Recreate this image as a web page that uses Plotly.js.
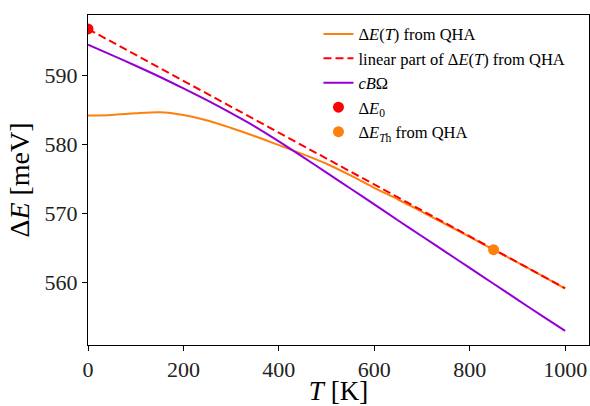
<!DOCTYPE html>
<html>
<head>
<meta charset="utf-8">
<script src="https://cdn.plot.ly/plotly-3.0.1.min.js"></script>
<style>html,body{margin:0;padding:0;background:#fff;}#chart{width:590px;height:406px;}</style>
</head>
<body>
<div id="chart"></div>
<script>
// Temperatures (K)
const T_grid = [0, 50, 100, 150, 200, 250, 300, 350, 400, 450, 500, 550, 600, 650, 700, 750, 800, 850, 900, 950, 1000];
// ΔE(T) from QHA (meV)
const dE_qha = [584.2, 584.3, 584.55, 584.7, 584.3, 583.5, 582.4, 581.2, 579.9, 578.6, 577.2, 575.5, 573.7, 572.0, 570.2, 568.4, 566.55, 564.7, 562.85, 560.95, 559.05];
// cBΩ (meV)
const cBOmega = [594.5, 593.0, 591.45, 589.85, 588.15, 586.4, 584.55, 582.6, 580.45, 578.2, 575.9, 573.6, 571.3, 568.95, 566.65, 564.35, 562.05, 559.75, 557.45, 555.15, 552.9];
// linear part of ΔE(T)
const T_lin = [0, 1000];
const dE_lin = [596.8, 559.1];
// points
const T0 = [0];
const dE0 = [596.8];
const Th = [850];
const dETh = [564.7];

const xTicks = [0, 200, 400, 600, 800, 1000];
const yTicks = [560, 570, 580, 590];

const FONT = "Liberation Serif, Times New Roman, serif";
const ORANGE = "#ff7f0e", RED = "#ff0000", PURPLE = "#9400d3";

const traces = [
  {x: T_grid, y: dE_qha, mode: "lines", line: {color: ORANGE, width: 2, shape: "spline", smoothing: 0.8},
   name: "Δ<i>E</i>(<i>T</i>) from QHA", legendgroup: "a"},
  {x: T_lin, y: dE_lin, mode: "lines", line: {color: RED, width: 2, dash: "8px,4px"},
   name: "linear part of Δ<i>E</i>(<i>T</i>) from QHA", legendgroup: "b"},
  {x: T_grid, y: cBOmega, mode: "lines", line: {color: PURPLE, width: 2, shape: "spline", smoothing: 0.8},
   name: "<i>cB</i>Ω", legendgroup: "c"},
  {x: T0, y: dE0, mode: "markers", marker: {color: RED, size: 11},
   name: "Δ<i>E</i><sub>0</sub>", legendgroup: "d"},
  {x: Th, y: dETh, mode: "markers", marker: {color: ORANGE, size: 11},
   name: "Δ<i>E</i><sub><i>T</i>h</sub> from QHA", legendgroup: "e"}
];

const layout = {
  width: 590, height: 406,
  margin: {l: 88, r: 1, t: 15, b: 61},
  paper_bgcolor: "#fff", plot_bgcolor: "#fff",
  font: {family: FONT, color: "#000"},
  showlegend: true,
  legend: {x: 0.46, xanchor: "left", y: 0.995, yanchor: "top", bgcolor: "rgba(0,0,0,0)",
           font: {family: FONT, size: 16.5, color: "#000"}, tracegroupgap: 0, traceorder: "normal"},
  xaxis: {range: [0, 1050], tickvals: xTicks, ticktext: xTicks.map(String), ticks: "outside", ticklen: 5,
          tickcolor: "#000", showline: true, linecolor: "#000", linewidth: 1, mirror: true,
          showgrid: false, zeroline: false, tickfont: {size: 22, family: FONT, color: "#222"},
          title: {text: "<i>T</i> [K]", font: {size: 27, family: FONT, color: "#000"}, standoff: 4}},
  yaxis: {range: [550.84, 598.83], tickvals: yTicks, ticktext: yTicks.map(String), ticks: "outside", ticklen: 5,
          tickcolor: "#000", showline: true, linecolor: "#000", linewidth: 1, mirror: true,
          showgrid: false, zeroline: false, tickfont: {size: 22, family: FONT, color: "#222"},
          title: {text: "Δ<i>E</i> [meV]", font: {size: 28, family: FONT, color: "#000"}, standoff: 6}}
};

Plotly.newPlot("chart", traces, layout, {displayModeBar: false, staticPlot: true});
</script>
</body>
</html>
